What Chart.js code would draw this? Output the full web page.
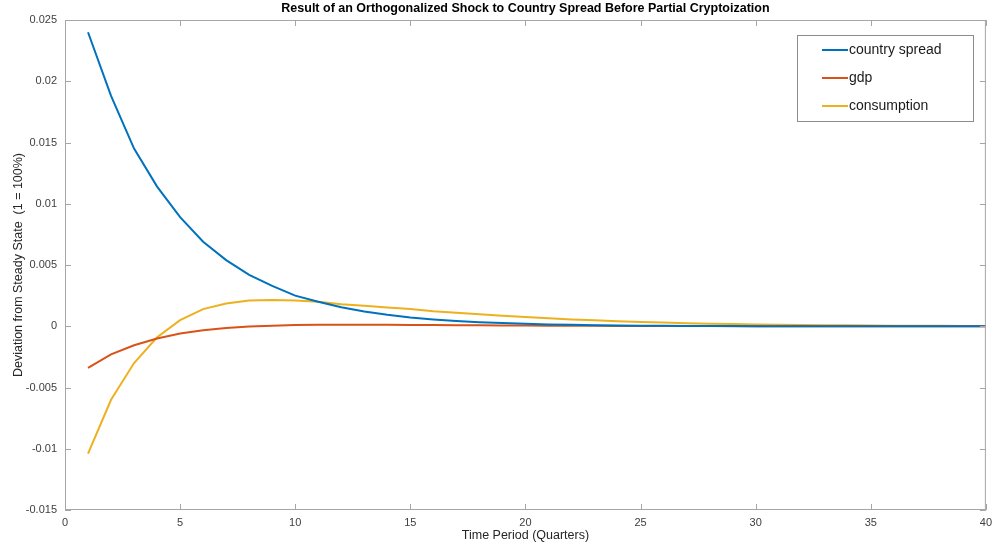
<!DOCTYPE html>
<html>
<head>
<meta charset="utf-8">
<script src="https://cdn.jsdelivr.net/npm/chart.js@4.4.0/dist/chart.umd.min.js"></script>
<style>
  html, body { margin: 0; padding: 0; background: #fff; }
  #wrap { width: 998px; height: 550px; }
</style>
</head>
<body>
<div id="wrap"><canvas id="irfChart" width="998" height="550"></canvas></div>
<script>
// Data (quarters 1..40)
const periods = [1, 2, 3, 4, 5, 6, 7, 8, 9, 10, 11, 12, 13, 14, 15, 16, 17, 18, 19, 20,
  21, 22, 23, 24, 25, 26, 27, 28, 29, 30, 31, 32, 33, 34, 35, 36, 37, 38, 39, 40];

const countrySpread = [0.0240, 0.0188, 0.0145, 0.0114, 0.0089, 0.0069, 0.0054, 0.0042, 0.0033, 0.0025,
  0.0020, 0.00155, 0.0012, 0.00093, 0.00072, 0.00056, 0.00043, 0.00033, 0.00026, 0.0002,
  0.00015, 0.00012, 0.00009, 0.00007, 0.00005, 0.00004, 0.00003, 0.00002, 0.00002, 0.00001,
  0.00001, 0.00001, 0, 0, 0, 0, 0, 0, 0, 0];

const gdp = [-0.0034, -0.0023, -0.00155, -0.0010, -0.0006, -0.00033, -0.00015, -0.00003, 0.00005, 0.0001,
  0.00012, 0.00013, 0.00013, 0.00012, 0.00011, 0.0001, 0.00009, 0.00008, 0.00007, 0.00006,
  0.00005, 0.00004, 0.00004, 0.00003, 0.00003, 0.00002, 0.00002, 0.00002, 0.00001, 0.00001,
  0.00001, 0.00001, 0, 0, 0, 0, 0, 0, 0, 0];

const consumption = [-0.0104, -0.0060, -0.0030, -0.0009, 0.0005, 0.0014, 0.00185, 0.0021, 0.00215, 0.0021,
  0.0020, 0.0018, 0.00167, 0.00153, 0.0014, 0.00122, 0.0011, 0.00097, 0.00085, 0.00075,
  0.00065, 0.00056, 0.00048, 0.00041, 0.00035, 0.0003, 0.00025, 0.00021, 0.00018, 0.00015,
  0.00013, 0.00011, 0.00009, 0.00008, 0.00006, 0.00005, 0.00004, 0.00004, 0.00003, 0.00003];

const SERIES_LABELS = ['country spread', 'gdp', 'consumption'];
const SERIES_COLORS = ['#0072BD', '#D95319', '#EDB120'];

const TITLE_TEXT = 'Result of an Orthogonalized Shock to Country Spread Before Partial Cryptoization';
const FONT = 'Arial, "Liberation Sans", sans-serif';

// MATLAB style box, inward ticks, title and in-plot legend
const matlabFrame = {
  id: 'matlabFrame',
  afterDraw(chart) {
    const { ctx, chartArea: a, scales } = chart;
    ctx.save();

    // box + inward ticks
    ctx.strokeStyle = '#a6a6a6';
    ctx.lineWidth = 1;
    ctx.strokeRect(a.left + 0.5, a.top + 0.5, a.right - a.left - 1, a.bottom - a.top - 1);
    ctx.beginPath();
    scales.x.ticks.forEach(t => {
      const px = Math.round(scales.x.getPixelForValue(t.value)) + 0.5;
      ctx.moveTo(px, a.bottom); ctx.lineTo(px, a.bottom - 6);
      ctx.moveTo(px, a.top); ctx.lineTo(px, a.top + 6);
    });
    scales.y.ticks.forEach(t => {
      const py = Math.round(scales.y.getPixelForValue(t.value)) + 0.5;
      ctx.moveTo(a.left, py); ctx.lineTo(a.left + 6, py);
      ctx.moveTo(a.right, py); ctx.lineTo(a.right - 6, py);
    });
    ctx.stroke();

    // title
    ctx.fillStyle = '#000';
    ctx.font = 'bold 12.5px ' + FONT;
    ctx.textAlign = 'center';
    ctx.textBaseline = 'middle';
    ctx.fillText(TITLE_TEXT, (a.left + a.right) / 2, 9);

    // legend box
    const lx = 797, ly = 35, lw = 176, lh = 86;
    ctx.fillStyle = '#fff';
    ctx.fillRect(lx, ly, lw, lh);
    ctx.strokeStyle = '#8c8c8c';
    ctx.strokeRect(lx + 0.5, ly + 0.5, lw, lh);
    ctx.font = '14px ' + FONT;
    ctx.textAlign = 'left';
    chart.data.datasets.forEach((ds, i) => {
      const yy = 50 + i * 28;
      ctx.strokeStyle = ds.borderColor;
      ctx.lineWidth = 2;
      ctx.beginPath();
      ctx.moveTo(822, yy); ctx.lineTo(848, yy);
      ctx.stroke();
      ctx.fillStyle = '#1a1a1a';
      ctx.fillText(ds.label, 849, yy);
    });
    ctx.restore();
  }
};

const seriesValues = [countrySpread, gdp, consumption];

const ctx = document.getElementById('irfChart').getContext('2d');
new Chart(ctx, {
  type: 'line',
  data: {
    datasets: SERIES_LABELS.map((label, i) => ({
      label: label,
      data: periods.map((p, k) => ({ x: p, y: seriesValues[i][k] })),
      borderColor: SERIES_COLORS[i],
      backgroundColor: SERIES_COLORS[i],
      borderWidth: 2,
      pointRadius: 0,
      tension: 0
    }))
  },
  options: {
    responsive: false,
    animation: false,
    layout: { padding: { top: 20, right: 10, left: 0, bottom: 0 } },
    plugins: {
      legend: { display: false },
      title: { display: false },
      tooltip: { enabled: false }
    },
    scales: {
      x: {
        type: 'linear',
        min: 0,
        max: 40,
        grid: { display: false, drawTicks: false },
        border: { display: false },
        ticks: {
          stepSize: 5,
          padding: 6,
          color: '#404040',
          font: { family: FONT, size: 11 }
        },
        title: {
          display: true,
          text: 'Time Period (Quarters)',
          color: '#262626',
          font: { family: FONT, size: 12.5 },
          padding: { top: 0, bottom: 7 }
        },
        afterFit: scale => { scale.height = 40; }
      },
      y: {
        min: -0.015,
        max: 0.025,
        grid: { display: false, drawTicks: false },
        border: { display: false },
        ticks: {
          stepSize: 0.005,
          padding: 8,
          color: '#404040',
          font: { family: FONT, size: 11 },
          callback: v => Number(v.toFixed(4)).toString()
        },
        title: {
          display: true,
          text: 'Deviation from Steady State  (1 = 100%)',
          color: '#262626',
          font: { family: FONT, size: 12.5 },
          padding: { top: 11, bottom: 0 }
        },
        afterFit: scale => { scale.width = 65; }
      }
    }
  },
  plugins: [matlabFrame]
});
</script>
</body>
</html>
